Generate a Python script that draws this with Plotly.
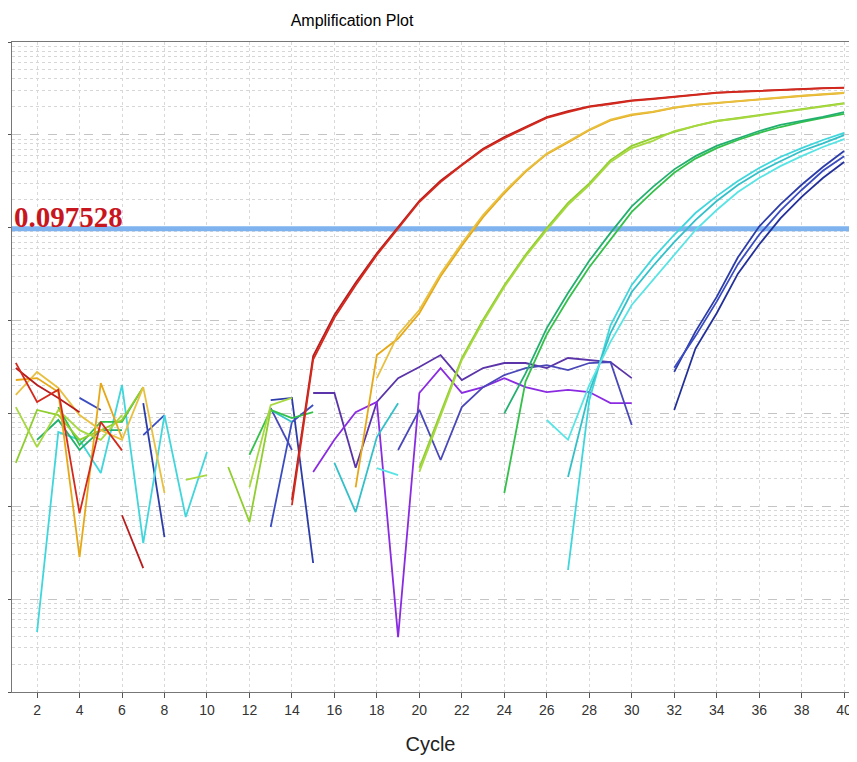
import math
import plotly.graph_objects as go

N = None
cycles = list(range(1, 41))
threshold = 0.097528
x_ticks = list(range(2, 41, 2))

red_a = [3.5e-3, 1.33e-3, 1.8e-3, 8.4e-5, 8.1e-4, 4.0e-4, N, N, N, N, N, N, N,
         1.03e-4, 3.8e-3, 1.07e-2, 2.4e-2, 5.1e-2, 0.099, 0.189, 0.31, 0.47, 0.69, 0.92,
         1.19, 1.52, 1.76, 2.0, 2.15, 2.32, 2.43, 2.56, 2.69, 2.83, 2.90, 2.97, 3.04, 3.12, 3.16, 3.2]
red_b = [3.08e-3, 2.02e-3, 1.47e-3, 1.03e-3, N, 8.0e-5, 2.16e-5, N, N, N, N, N, N,
         1.17e-4, 4.15e-3, 1.15e-2, 2.55e-2, 5.3e-2, 0.102, 0.195, 0.32, 0.48, 0.71, 0.95,
         1.22, 1.55, 1.80, 2.03, 2.18, 2.35, 2.46, 2.59, 2.72, 2.85, 2.92, 2.99, 3.06, 3.14, 3.18, 3.22]
yellow_a = [2.29e-3, 2.4e-3, 1.70e-3, 2.84e-5, 2.12e-3, 5.4e-4, N, N, N, N, N, N, N, N, N, N,
            1.6e-4, 4.25e-3, 6.4e-3, 1.2e-2, 3.0e-2, 6.4e-2, 0.13, 0.235, 0.40, 0.62, 0.83,
            1.12, 1.43, 1.63, 1.76, 1.95, 2.10, 2.20, 2.32, 2.43, 2.53, 2.62, 2.72, 2.82]
yellow_b = [1.58e-3, 2.8e-3, 1.88e-3, 9.6e-4, 6.6e-4, 5.2e-4, 1.92e-3, 1.39e-4, N, N, N, N, N, N, N, N, N,
            2.4e-3, 7.1e-3, 1.3e-2, 3.2e-2, 6.8e-2, 0.137, 0.245, 0.41, 0.63, 0.85, 1.14, 1.46,
            1.66, 1.78, 1.97, 2.12, 2.22, 2.34, 2.45, 2.55, 2.64, 2.74, 2.84]
yg_a = [2.93e-4, 1.09e-3, 9.6e-4, 5.2e-4, 6.6e-4, 8.5e-4, 1.92e-3, N, N, N, 2.65e-4, 6.78e-5, 1.09e-3,
        N, N, N, N, N, N,
        2.6e-4, 1.03e-3, 3.95e-3, 1.02e-2, 2.4e-2, 5.1e-2, 0.099, 0.185, 0.30, 0.535, 0.76, 0.92,
        1.07, 1.25, 1.41, 1.52, 1.64, 1.76, 1.90, 2.04, 2.20]
yg_b = [1.17e-3, 4.35e-4, 1.09e-3, 6.6e-4, 5.2e-4, 9.6e-4, N, N, 1.92e-4, 2.17e-4, N, 1.6e-4, 1.23e-3, 1.47e-3,
        N, N, N, N, N,
        2.34e-4, 9.6e-4, 3.76e-3, 9.7e-3, 2.3e-2, 4.9e-2, 9.45e-2, 0.176, 0.288, 0.51, 0.72, 0.86,
        1.10, 1.25, 1.41, 1.50, 1.62, 1.74, 1.88, 2.02, 2.17]
green_a = [N, N, 1.17e-3, 4.57e-4, 8.1e-4, 8.1e-4, 1.92e-3, N, N, N, N, 3.57e-4, 1.09e-3, 8.9e-4, 1.03e-3,
           N, N, N, N, N, N, N, N,
           1.39e-4, 2.2e-3, 7.1e-3, 1.70e-2, 3.75e-2, 7.5e-2, 0.148, 0.245, 0.39, 0.555, 0.72, 0.88,
           1.05, 1.215, 1.375, 1.52, 1.68]
green_b = [N, 5.2e-4, 8.5e-4, 4.04e-4, 6.6e-4, 6.6e-4,
           N, N, N, N, N, N, N, N, N, N, N, N, N, N, N, N, N,
           1.0e-3, 2.7e-3, 8.3e-3, 1.98e-2, 4.4e-2, 8.8e-2, 0.17, 0.275, 0.425, 0.59, 0.76, 0.92,
           1.10, 1.28, 1.41, 1.56, 1.76]
cyan_a = [N, 4.43e-6, 6.3e-4, 5.2e-4, 2.28e-4, 2.02e-3, 4.02e-5, 9.6e-4, 7.65e-5, 3.84e-4,
          N, N, N, N, N, N, N, N, N, N, N, N, N, N, N, N,
          2.06e-5, 1.39e-3, 8.9e-3, 2.42e-2, 4.7e-2, 8.4e-2, 0.144, 0.219, 0.318, 0.44, 0.577, 0.72, 0.88, 1.05]
cyan_b = [N, N, N, N, N, N, N, N, N, N, N, N,
          1.09e-3, 8.1e-4, N, 2.93e-4, 8.66e-5, 5.57e-4, 1.29e-3,
          N, N, N, N, N, N, N,
          2.07e-4, 1.70e-3, 7.35e-3, 2.03e-2, 3.87e-2, 7.0e-2, 0.121, 0.194, 0.288, 0.398, 0.52, 0.67, 0.81, 0.995]
cyan_c = [N, N, N, N, N, N, N, N, N, N, N, N, N, N, N, N, N,
          2.58e-4, 2.17e-4, N, N, N, N, N, N,
          8.5e-4, 5.2e-4, 2.02e-3, 5.9e-3, 1.47e-2, 2.74e-2, 5.1e-2, 9.45e-2, 0.155, 0.242, 0.343, 0.46, 0.59, 0.74, 0.90]
blue_a = [N, N, N, N, N, N, 1.29e-3, 4.66e-5, N, N, N, N, 1.39e-3, 1.47e-3, 2.45e-5,
          N, N, N, N, N, N, N, N, N, N, N, N, N, N, N, N,
          2.8e-3, 7.6e-3, 1.8e-2, 4.8e-2, 0.103, 0.178, 0.29, 0.45, 0.67]
blue_b = [N, N, N, 1.47e-3, 1.09e-3, N, 5.85e-4, 9.6e-4, N, N, N, N, 5.98e-5, 8.1e-4, 1.23e-3,
          N, N, N, N, N, N, N, N, N, N, N, N, N, N, N, N,
          3.1e-3, 6.8e-3, 1.6e-2, 4.05e-2, 8.4e-2, 0.153, 0.255, 0.41, 0.59]
blue_c = [N] * 31 + [1.09e-3, 5.0e-3, 1.2e-2, 3.2e-2, 6.6e-2, 0.126, 0.215, 0.343, 0.51]
purple_a = [N] * 14 + [1.66e-3, 1.66e-3, 2.6e-4, 1.33e-3, 2.4e-3, 3.16e-3, 4.25e-3, 2.29e-3, 3.08e-3,
                       3.49e-3, 3.49e-3, 3.08e-3, 3.95e-3, 3.76e-3, 3.58e-3, 2.4e-3] + [N] * 10
purple_b = [N] * 14 + [2.34e-4, 5.2e-4, 1.03e-3, 1.33e-3, 3.9e-6, 1.66e-3, 3.08e-3, 1.66e-3, 1.92e-3,
                       2.40e-3, 1.92e-3, 1.70e-3, 1.79e-3, 1.70e-3, 1.29e-3, 1.29e-3] + [N] * 10
purple_c = [N] * 12 + [1.14e-3, 4.04e-4, N, N, N, N, 4.04e-4, 1.09e-3, 3.15e-4, 1.17e-3, 1.92e-3, 2.59e-3,
                       3.08e-3, 3.32e-3, 2.93e-3, 3.49e-3, 3.58e-3, 7.5e-4] + [N] * 10

series = [
    (purple_a, "#5a34a8"), (purple_b, "#8a2be2"), (purple_c, "#4a48b8"),
    (blue_a, "#2c3ca8"), (blue_b, "#3a4cc0"), (blue_c, "#24309a"),
    (cyan_a, "#3fd6dc"), (cyan_b, "#33c0c8"), (cyan_c, "#58e4e4"),
    (green_a, "#34c04a"), (green_b, "#22b070"),
    (yg_a, "#8fce2e"), (yg_b, "#a8d840"),
    (yellow_a, "#e6a817"), (yellow_b, "#e8c040"),
    (red_b, "#b81c1c"), (red_a, "#d42a1e"),
]

x_range = [0.82, 40.23]

fig = go.Figure()
fig.add_trace(go.Scatter(x=x_range, y=[threshold, threshold], mode="lines",
                         line=dict(color="#7eb3f0", width=5), hoverinfo="skip"))
for vals, col in series:
    fig.add_trace(go.Scatter(x=cycles, y=vals, mode="lines",
                             line=dict(color=col, width=1.8), connectgaps=False))

fig.add_annotation(text="<b>0.097528</b>", xref="paper", x=0, xanchor="left", xshift=0,
                   yref="y", y=math.log10(threshold), yanchor="bottom", yshift=-6,
                   showarrow=False,
                   font=dict(family="Liberation Serif, Times New Roman, serif", size=29, color="#c8161e"))

# page body has an 8px default margin, so the figure is sized/offset to fit the 857x762 window
fig.update_layout(
    width=849, height=754,
    margin=dict(l=4, r=8, t=34, b=70, autoexpand=False),
    paper_bgcolor="white", plot_bgcolor="white",
    showlegend=False,
    title=dict(text="Amplification Plot", x=344 / 849, xanchor="center", y=1 - 12 / 754, yanchor="middle",
               font=dict(family="Liberation Sans, Arial", size=16, color="black")),
    font=dict(family="Liberation Sans Narrow, Liberation Sans, Arial", color="#222"),
)
fig.update_xaxes(range=x_range, tickvals=x_ticks, ticks="outside", ticklen=5, tickcolor="#555",
                 tickfont=dict(size=14, color="#333"), automargin=False,
                 showline=True, linecolor="#777", linewidth=1, mirror=True,
                 showgrid=True, gridcolor="#d9d9d9", griddash="dot", zeroline=False,
                 title=dict(text="Cycle", font=dict(family="Liberation Sans, Arial", size=20, color="#222"),
                            standoff=20))
fig.update_yaxes(type="log", range=[-6, 1], dtick=1, showticklabels=False, ticks="outside", ticklen=5,
                 tickcolor="#555", showline=True, linecolor="#777", linewidth=1, mirror=True,
                 automargin=False,
                 showgrid=True, gridcolor="#c4c4c4", griddash="dash", zeroline=False,
                 minor=dict(dtick="D1", showgrid=True, gridcolor="#d6d6d6", griddash="dot", ticks=""))

fig.write_html("out.html")
